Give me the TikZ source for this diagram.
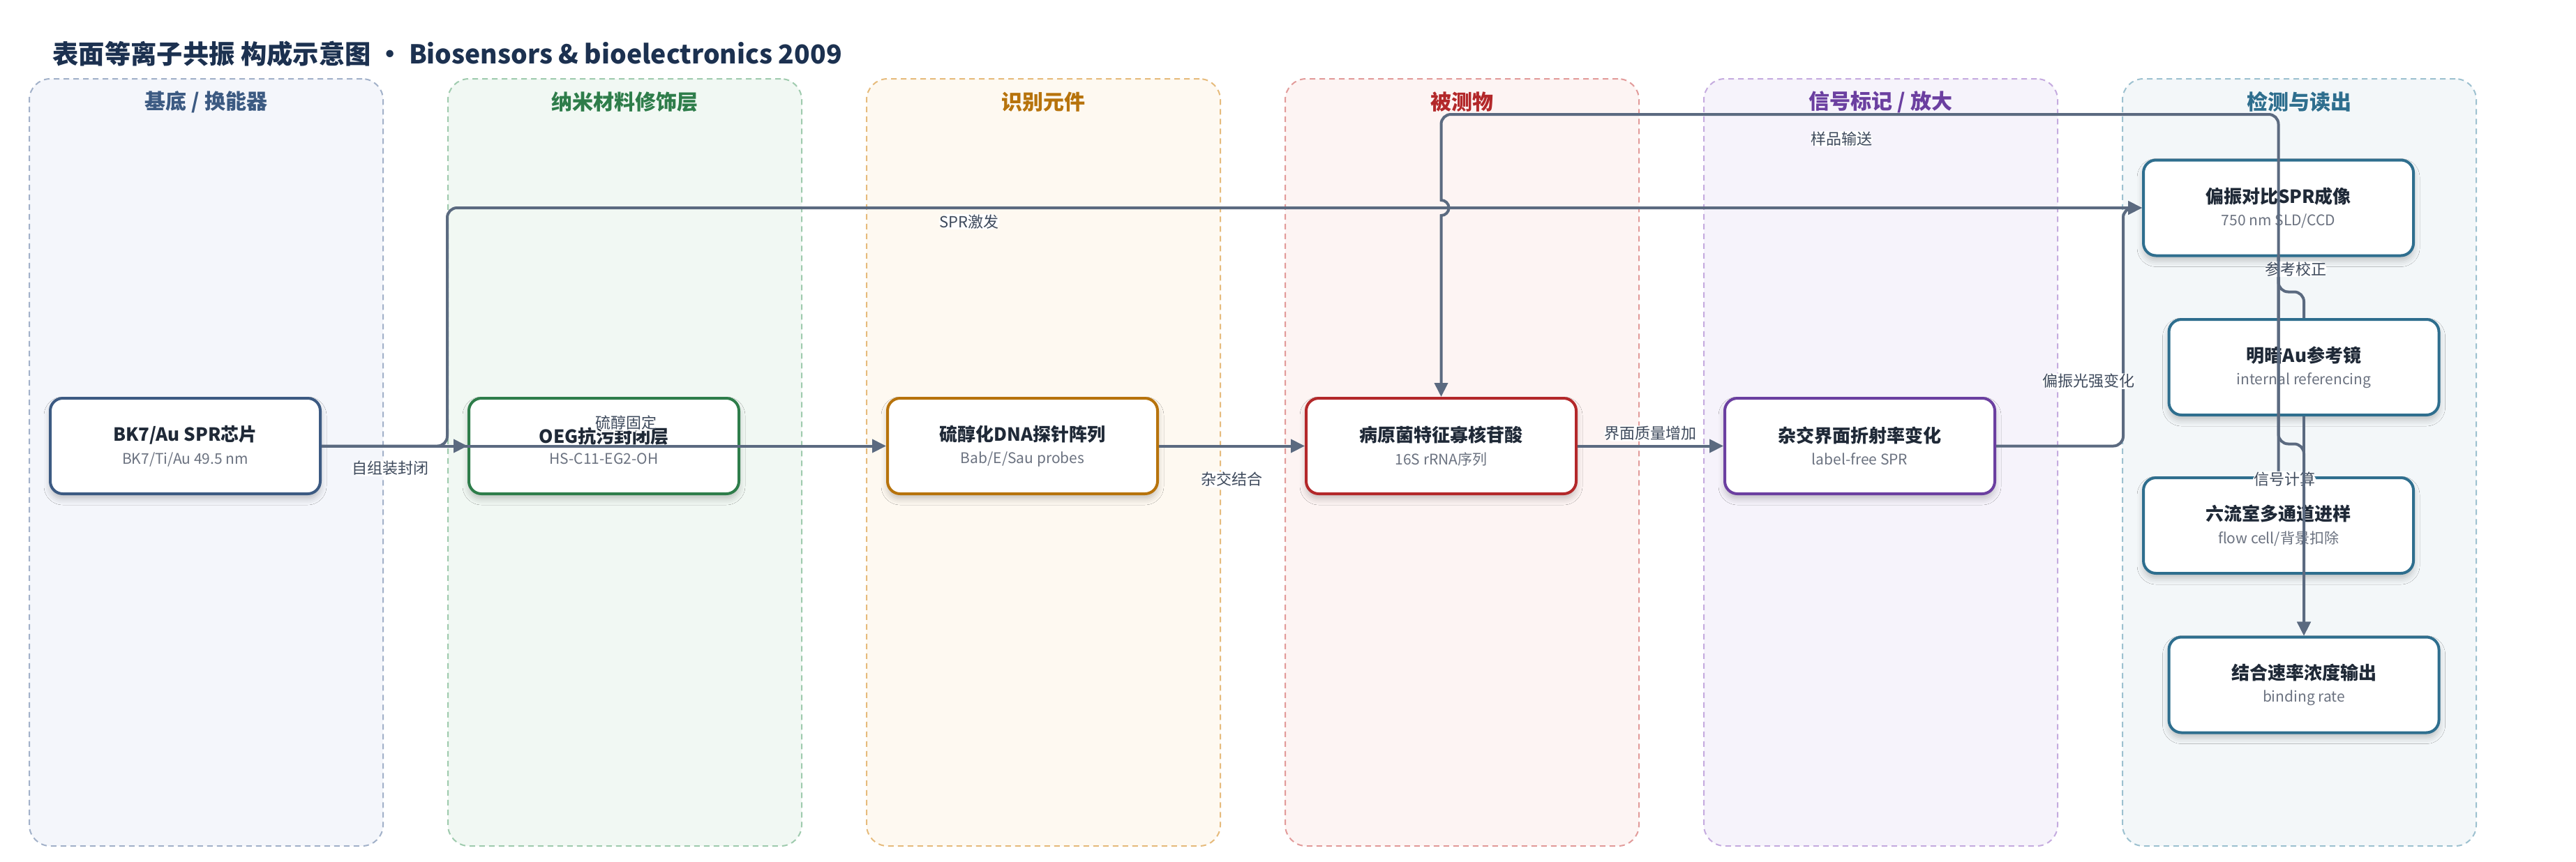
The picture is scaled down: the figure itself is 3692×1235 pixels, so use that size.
\documentclass[tikz,border=0pt]{standalone}
\usepackage{fontspec}
\setmainfont{Noto Sans CJK SC}
\usetikzlibrary{positioning, arrows.meta, shadows.blur}

% lane colours
\definecolor{lncol1}{HTML}{3C5A82}\definecolor{lnfill1}{HTML}{F4F6FB}\definecolor{lndash1}{HTML}{A2B1C9}
\definecolor{lncol2}{HTML}{2E7D4A}\definecolor{lnfill2}{HTML}{F1F8F3}\definecolor{lndash2}{HTML}{9FCBAE}
\definecolor{lncol3}{HTML}{B7730C}\definecolor{lnfill3}{HTML}{FEF9F1}\definecolor{lndash3}{HTML}{E6BB7C}
\definecolor{lncol4}{HTML}{B3282A}\definecolor{lnfill4}{HTML}{FDF4F3}\definecolor{lndash4}{HTML}{E29B9A}
\definecolor{lncol5}{HTML}{6B3FA0}\definecolor{lnfill5}{HTML}{F6F3FB}\definecolor{lndash5}{HTML}{C5ABDF}
\definecolor{lncol6}{HTML}{2E6E8E}\definecolor{lnfill6}{HTML}{F3F7F9}\definecolor{lndash6}{HTML}{9DC1D0}
\definecolor{edgegray}{HTML}{5B6A80}
\definecolor{lbltext}{HTML}{3E4A5C}
\definecolor{headtext}{HTML}{1C3150}
\definecolor{boxtext}{HTML}{1F2937}
\definecolor{subtext}{HTML}{6B7280}

\newcommand{\boxtitle}{\fontsize{26pt}{30pt}\selectfont\bfseries\color{boxtext}}
\newcommand{\boxsub}{\fontsize{21pt}{25pt}\selectfont\color{subtext}}

\tikzset{
>={Triangle[length=20pt,width=19pt]}, % filled heads
lane/.style={rounded corners=30pt, dash pattern=on 8pt off 6pt, line width=2pt, minimum width=507pt, minimum height=1100pt, inner sep=0pt},
lanetitle/.style={font=\fontsize{30pt}{34pt}\selectfont\bfseries},
box/.style={rectangle, rounded corners=18pt, line width=4pt, fill=white, minimum width=387pt, minimum height=137pt, align=center,
  blur shadow={shadow xshift=0pt, shadow yshift=-7pt, shadow blur radius=9pt, shadow opacity=22}},
link/.style={line width=4pt, draw=edgegray, rounded corners=14pt},
flow/.style={link, ->, >={Triangle[length=20pt,width=19pt]}, edgegray},
lbl/.style={fill=white, inner sep=1pt, text=lbltext, font=\fontsize{22pt}{26pt}\selectfont},
}

\begin{document}
\begin{tikzpicture}[x=1pt, y=-1pt, node distance=600pt, on grid]
\useasboundingbox (0,0) rectangle (3692,1235);
\fill[white] (0,0) rectangle (3692,1235);

\node[anchor=west, text=headtext, font=\fontsize{37.3pt}{42pt}\selectfont\bfseries] (head) at (72,77) {表面等离子共振 构成示意图 • Biosensors \& bioelectronics 2009};

% lanes
\foreach \i/\lname in {1/{基底 / 换能器}, 2/纳米材料修饰层, 3/识别元件, 4/被测物, 5/{信号标记 / 放大}, 6/检测与读出} {
  \pgfmathsetmacro\cx{295.5+600*(\i-1)}
  \node[lane, draw=lndash\i, fill=lnfill\i] (lane\i) at (\cx,663) {};
  \node[lanetitle, text=lncol\i] (lane\i-t) at (\cx,146) {\lname};
}

% main chain
\node[box, draw=lncol1] (bk7) at (265.5,639.5) {\boxtitle BK7/Au SPR芯片\\[11pt]\boxsub BK7/Ti/Au 49.5 nm};
\node[box, draw=lncol2] (oeg) [right=of bk7] {\boxtitle OEG抗污封闭层\\[11pt]\boxsub HS-C11-EG2-OH};
\node[box, draw=lncol3] (probe) [right=of oeg] {\boxtitle 硫醇化DNA探针阵列\\[11pt]\boxsub Bab/E/Sau probes};
\node[box, draw=lncol4] (target) [right=of probe] {\boxtitle 病原菌特征寡核苷酸\\[11pt]\boxsub 16S rRNA序列};
\node[box, draw=lncol5] (hyb) [right=of target] {\boxtitle 杂交界面折射率变化\\[11pt]\boxsub label-free SPR};

% readout
\node[box, draw=lncol6] (spr) at (3265.5,298) {\boxtitle 偏振对比SPR成像\\[11pt]\boxsub 750 nm SLD/CCD};
\node[box, draw=lncol6] (auref) [below right=228.5pt and 36.5pt of spr] {\boxtitle 明暗Au参考镜\\[11pt]\boxsub internal referencing};
\node[box, draw=lncol6] (flowcell) [below left=227pt and 36.5pt of auref] {\boxtitle 六流室多通道进样\\[11pt]\boxsub flow cell/背景扣除};
\node[box, draw=lncol6] (rate) [below right=228.5pt and 36.5pt of flowcell] {\boxtitle 结合速率浓度输出\\[11pt]\boxsub binding rate};

\draw[flow] (bk7) -- node[lbl, pos=.47, yshift=-32pt] {自组装封闭} (oeg);
\draw[flow] (bk7.east) -- node[lbl, pos=.54, yshift=33pt] {硫醇固定} (probe.west);
\draw[flow] (probe) -- node[lbl, yshift=-48pt] {杂交结合} (target);
\draw[flow] (target) -- node[lbl, yshift=18pt] {界面质量增加} (hyb);
\draw[flow] (hyb.east) -- ++(182,0) |- node[lbl, pos=.136, xshift=-50pt] {偏振光强变化} (spr.west);
\draw[flow] (bk7.east) -- ++(180,0) |- node[lbl, pos=.654, yshift=-20pt] {SPR激发} (spr.west);
\draw[flow] (flowcell.north) -- (flowcell.north |- 0,164) -- node[lbl, pos=.522, yshift=-35pt] {样品输送} (target.north |- 0,164)
  [sharp corners] -- (target.north |- 0,287) arc[start angle=90, end angle=-90, radius=11pt] -- (target.north);
\draw[link] (spr.south) -- node[lbl, pos=.35, xshift=25pt] {参考校正} ++(0,50) -| (auref.north);
\draw[flow] (spr.south) -- ++(0,268) -| node[lbl, pos=.592, xshift=-28pt] {信号计算} (rate.north);
\draw[flow] (auref.south) -- (rate.north);
\end{tikzpicture}
\end{document}
